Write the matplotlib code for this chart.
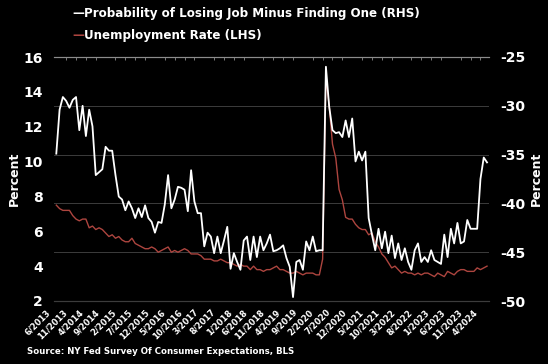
import numpy as np
import pandas as pd
import matplotlib
matplotlib.use("Agg")
import matplotlib.pyplot as plt
import matplotlib.transforms as mtransforms
from matplotlib.ticker import MultipleLocator

plt.rcParams['axes.unicode_minus'] = False
plt.rcParams['font.family'] = ['DejaVu Sans']

# monthly, 6/2013 .. 5/2024
months = pd.date_range('2013-06-01', periods=132, freq='MS')

# unemployment rate, percent (left axis)
unemp = [7.5, 7.3, 7.2, 7.2, 7.2, 6.9, 6.7,
         6.6, 6.7, 6.7, 6.2, 6.3, 6.1, 6.2, 6.1, 5.9, 5.7, 5.8, 5.6,
         5.7, 5.5, 5.4, 5.4, 5.6, 5.3, 5.2, 5.1, 5.0, 5.0, 5.1, 5.0,
         4.8, 4.9, 5.0, 5.1, 4.8, 4.9, 4.8, 4.9, 5.0, 4.9, 4.7, 4.7,
         4.7, 4.6, 4.4, 4.4, 4.4, 4.3, 4.3, 4.4, 4.3, 4.2, 4.2, 4.1,
         4.0, 4.1, 4.0, 4.0, 3.8, 4.0, 3.8, 3.8, 3.7, 3.8, 3.8, 3.9,
         4.0, 3.8, 3.8, 3.7, 3.6, 3.6, 3.7, 3.6, 3.5, 3.6, 3.6, 3.6,
         3.5, 3.5, 4.4, 14.8, 13.2, 11.0, 10.2, 8.4, 7.8, 6.8, 6.7, 6.7,
         6.4, 6.2, 6.1, 6.1, 5.8, 5.9, 5.4, 5.1, 4.7, 4.5, 4.2, 3.9,
         4.0, 3.8, 3.6, 3.7, 3.6, 3.6, 3.5, 3.6, 3.5, 3.6, 3.6, 3.5,
         3.4, 3.6, 3.5, 3.4, 3.7, 3.6, 3.5, 3.7, 3.8, 3.8, 3.7, 3.7,
         3.7, 3.9, 3.8, 3.9, 4.0]

# probability of losing job minus finding one, percent (right axis)
lose_minus_find = [
    -34.9, -30.4, -29.1, -29.5, -30.2, -29.4, -29.1, -32.5, -30.0, -33.1,
    -30.4, -32.1, -37.1, -36.8, -36.5, -34.2, -34.6, -34.6, -37.1, -39.3,
    -39.6, -40.7, -39.8, -40.5, -41.5, -40.5, -41.4, -40.2, -41.5, -41.9,
    -43.0, -41.9, -42.0, -40.1, -37.1, -40.5, -39.6, -38.3, -38.4, -38.6,
    -40.8, -36.6, -39.8, -41.0, -41.0, -44.4, -43.0, -43.4, -45.1, -43.4,
    -45.1, -43.8, -42.4, -46.7, -45.1, -46.0, -46.8, -43.8, -43.4, -45.8,
    -43.4, -45.5, -43.4, -44.8, -44.1, -43.2, -44.9, -44.8, -44.6, -44.3,
    -45.6, -46.5, -49.6, -46.0, -45.8, -46.8, -43.9, -44.8, -43.4, -44.9,
    -44.8, -44.8, -26.0, -30.1, -32.5, -32.8, -32.7, -33.2, -31.5, -33.2,
    -31.3, -35.7, -34.7, -35.6, -34.7, -41.5, -43.2, -44.8, -42.6, -44.6,
    -42.9, -45.1, -43.3, -45.6, -44.1, -45.8, -44.6, -46.0, -46.8, -44.8,
    -44.1, -46.0, -45.5, -46.0, -44.8, -45.8, -46.0, -46.2, -43.2, -45.5,
    -42.6, -44.1, -42.0, -44.1, -43.9, -41.7, -42.6, -42.6, -42.6, -37.5,
    -35.3, -35.8]

left_ticks = [2, 4, 6, 8, 10, 12, 14, 16]
right_ticks = [-50, -45, -40, -35, -30, -25]

white = '#ffffff'
red = '#ad453f'
grid = '#3c3c3c'

fig = plt.figure(figsize=(5.48, 3.64), dpi=100, facecolor='black')
ax = fig.add_axes([54 / 548, 63 / 364, 435 / 548, 244 / 364])
ax.set_facecolor('black')

x = np.arange(len(months))
ax.set_xlim(-0.7, 131.6)
ax.set_ylim(2, 16)

# gridlines follow the right-hand scale
for v in right_ticks[1:-1]:
    yl = 2 + (v + 50) / 25 * 14
    ax.axhline(yl, color=grid, lw=0.7, zorder=0)

ax.plot(x, unemp, color=red, lw=1.0, zorder=2)

ax2 = ax.twinx()
ax2.plot(x, lose_minus_find, color=white, lw=1.3)
ax2.set_ylim(-50, -25)

for a in (ax, ax2):
    for s in ('left', 'right'):
        a.spines[s].set_visible(False)
    a.spines['top'].set_color('#8c8c8c')
    a.spines['top'].set_linewidth(0.8)
    a.spines['bottom'].set_color(grid)
    a.spines['bottom'].set_linewidth(0.8)

tick_font = dict(color='white', fontsize=10, fontweight='bold')
ax.set_yticks(left_ticks)
ax.set_yticklabels([str(t) for t in left_ticks], **tick_font)
ax.tick_params(axis='y', length=0, pad=8)
ax2.set_yticks(right_ticks)
ax2.set_yticklabels([str(t) for t in right_ticks], **tick_font)
ax2.tick_params(axis='y', length=0, pad=8)

# x axis: labels every 5 months, small ticks on the top line
xt = x[::5]
ax.set_xticks(xt)
ax.set_xticklabels([f"{d.month}/{d.year}" for d in months[::5]],
                   rotation=45, ha='right', va='center', rotation_mode='anchor',
                   color='white', fontsize=6, fontweight='bold')
ax.xaxis.set_minor_locator(MultipleLocator(3))
ax.tick_params(axis='x', which='major', length=0, pad=7)
ax.tick_params(axis='x', which='minor', bottom=False, top=True, direction='in',
               length=2.5, width=0.6, color='#8c8c8c')
shift = mtransforms.ScaledTranslation(-7 / 100, 0, fig.dpi_scale_trans)
for lab in ax.get_xticklabels():
    lab.set_transform(lab.get_transform() + shift)

ax.set_ylabel('Percent', color='white', fontsize=9, fontweight='bold', labelpad=2)
ax2.set_ylabel('Percent', color='white', fontsize=9, fontweight='bold', labelpad=3)

# legend
leg_size = 8.6
fig.text(72 / 548, 1 - 14 / 364, '\u2014', color=white, fontsize=leg_size,
         fontweight='bold', va='center')
fig.text(84 / 548, 1 - 14 / 364, 'Probability of Losing Job Minus Finding One (RHS)',
         color='white', fontsize=leg_size, fontweight='bold', va='center')
fig.text(72 / 548, 1 - 36 / 364, '\u2014', color=red, fontsize=leg_size,
         fontweight='bold', va='center')
fig.text(84 / 548, 1 - 36 / 364, 'Unemployment Rate (LHS)',
         color='white', fontsize=leg_size, fontweight='bold', va='center')

fig.text(27 / 548, 1 - 352 / 364, 'Source: NY Fed Survey Of Consumer Expectations, BLS',
         color='white', fontsize=6.2, fontweight='bold', va='center')

fig.savefig('out.png', dpi=100, facecolor='black')
